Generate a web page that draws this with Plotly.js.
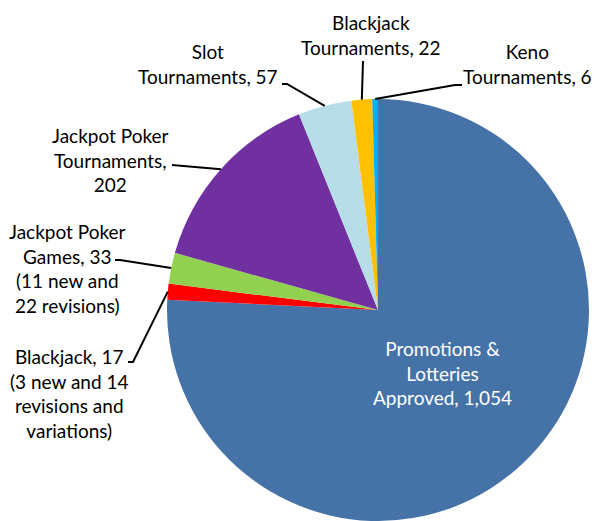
<!DOCTYPE html>
<html>
<head>
<meta charset="utf-8">
<script src="https://cdn.plot.ly/plotly-3.0.1.min.js"></script>
<style>html,body{margin:0;padding:0;background:#fff;}#chart{width:596px;height:521px;}</style>
</head>
<body>
<div id="chart"></div>
<script>
// ---- data ----
var categories = [
  "Promotions & Lotteries Approved",
  "Blackjack",
  "Jackpot Poker Games",
  "Jackpot Poker Tournaments",
  "Slot Tournaments",
  "Blackjack Tournaments",
  "Keno Tournaments"
];
var values = [1054, 17, 33, 202, 57, 22, 6];
var labelTexts = [
  "Promotions &amp;<br>Lotteries<br>Approved, 1,054",
  "Blackjack, 17<br>(3 new and 14<br>revisions and<br>variations)",
  "Jackpot Poker<br>Games, 33<br>(11 new and<br>22 revisions)",
  "Jackpot Poker<br>Tournaments,<br>202",
  "Slot<br>Tournaments, 57",
  "Blackjack<br>Tournaments, 22",
  "Keno<br>Tournaments, 6"
];
var colors = ["#4573A8", "#FF0000", "#92D050", "#7030A0", "#B7DEE8", "#FFC000", "#00B0F0"];

// ---- layout constants (pixels) ----
var W = 596, H = 521;
var cx = 378, cy = 310, R = 211;
// label centers and leader-line start points (pixels)
var labelPos = [[442, 373], [69, 393], [67, 268], [110, 160], [208, 64], [371, 35], [527, 64]];
var leaderStart = [null, [[128, 362], [133, 362]], [[115, 260], [120, 260]], [[172, 165]], [[282, 84], [287, 84]], [[363, 61]], [[462, 85], [455, 85]]];

function px(x) { return x / W; }
function py(y) { return 1 - y / H; }

var total = values.reduce(function (a, b) { return a + b; }, 0);
var cum = 0;
var tips = values.map(function (v) {
  var mid = (cum + v / 2) / total;
  cum += v;
  var th = 2 * Math.PI * mid;
  return [cx + R * Math.sin(th), cy - R * Math.cos(th)];
});

var annotations = labelTexts.map(function (t, i) {
  return {
    text: t, xref: "paper", yref: "paper",
    x: px(labelPos[i][0]), y: py(labelPos[i][1]),
    xanchor: "center", yanchor: "middle", align: "center",
    showarrow: false,
    font: {family: "Lato, 'Open Sans', sans-serif", size: 19, color: i === 0 ? "#ffffff" : "#000000"}
  };
});

var shapes = [];
leaderStart.forEach(function (pts, i) {
  if (!pts) return;
  var all = pts.concat([tips[i]]);
  var d = all.map(function (p, k) { return (k === 0 ? "M" : "L") + px(p[0]).toFixed(5) + "," + py(p[1]).toFixed(5); }).join(" ");
  shapes.push({type: "path", xref: "paper", yref: "paper", path: d, line: {color: "#000000", width: 2}});
});

var trace = {
  type: "pie",
  labels: categories,
  values: values,
  sort: false,
  direction: "clockwise",
  rotation: 0,
  textinfo: "none",
  hoverinfo: "skip",
  marker: {colors: colors, line: {width: 0}},
  domain: {x: [px(cx - R), px(cx + R)], y: [py(cy + R), py(cy - R)]},
  showlegend: false
};

Plotly.newPlot("chart", [trace], {
  width: W, height: H,
  margin: {l: 0, r: 0, t: 0, b: 0},
  paper_bgcolor: "#ffffff",
  showlegend: false,
  annotations: annotations,
  shapes: shapes
}, {staticPlot: true});
</script>
</body>
</html>
